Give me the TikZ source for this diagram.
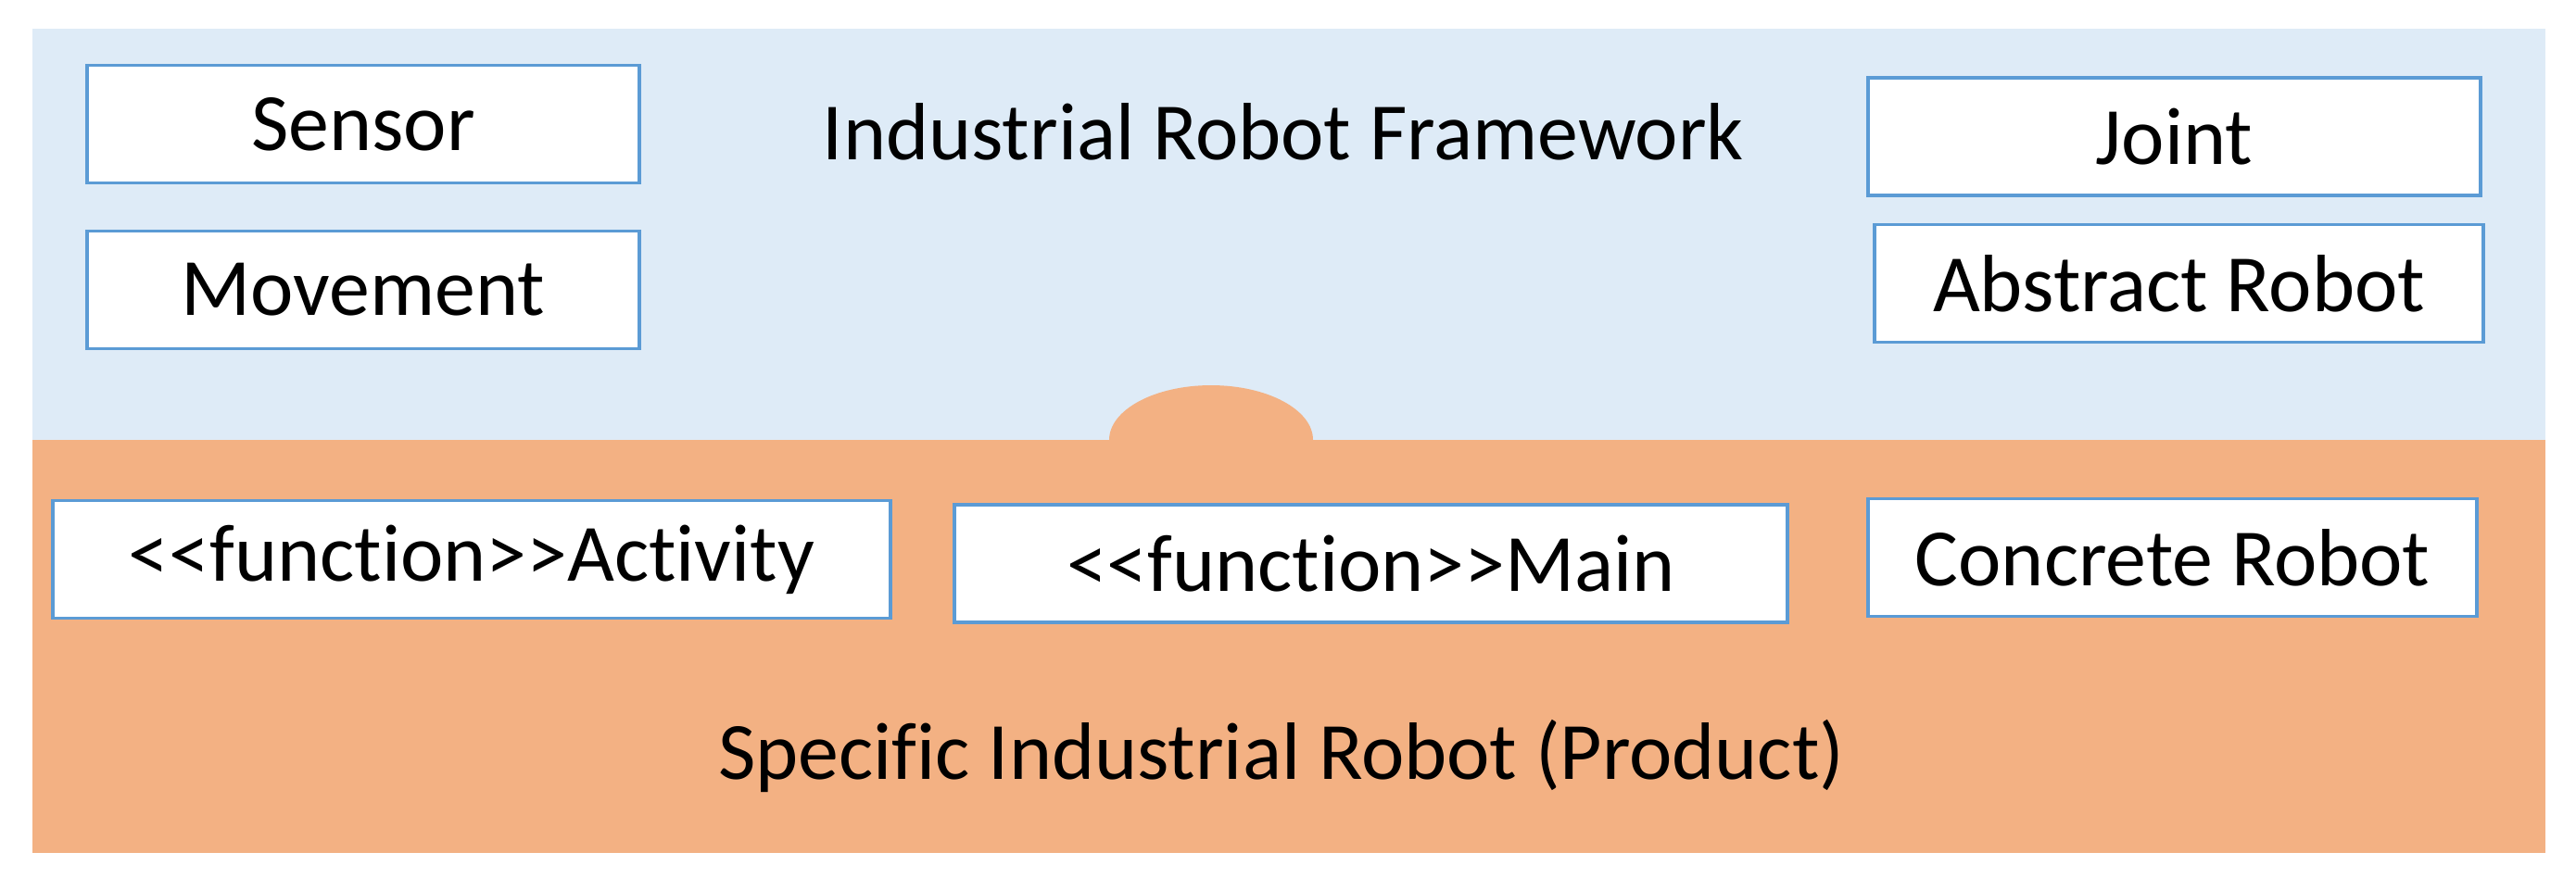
\documentclass[tikz,border=0pt]{standalone}
\usepackage{fontspec}
\setmainfont[Ligatures=NoCommon]{Carlito}
\usepackage{tikz}
\usetikzlibrary{positioning}
\definecolor{frameblue}{RGB}{222,235,247}
\definecolor{productorange}{RGB}{243,177,131}
\definecolor{boxline}{RGB}{91,155,213}
\tikzset{
  part/.style={draw=boxline, line width=0.9pt, fill=white, inner sep=0pt,
               minimum height=1.27cm, font=\fontsize{25}{29}\selectfont},
  label/.style={inner sep=0pt, font=\fontsize{25}{29}\selectfont}
}

\begin{document}
\begin{tikzpicture}
    \useasboundingbox (0,0) rectangle (27.8,-9.6);
    % the two layers
    \fill[frameblue] (0.35,-0.31) rectangle (27.47,-4.75);
    \fill[productorange] (0.35,-4.75) rectangle (27.47,-9.21);
    \fill[productorange] (11.97,-4.75) arc (180:0:1.1 and 0.59);
    % framework
    \node [label] (framework) at (13.85, -1.42) {Industrial Robot Framework};
    \node [part, minimum width=5.96cm] (sensor) at (3.92, -1.34) {Sensor};
    \node [part, minimum width=5.96cm] (movement) at (3.92, -3.13) {Movement};
    \node [part, minimum width=6.61cm] (joint) at (23.465, -1.475) {Joint};
    \node [part, minimum width=6.57cm] (abstract) at (23.515, -3.06) {Abstract Robot};
    % product
    \node [part, minimum width=9.04cm] (activity) at (5.09, -6.04) {<{}<function>{}>Activity};
    \node [part, minimum width=8.99cm] (main) at (14.795, -6.085) {<{}<function>{}>Main};
    \node [part, minimum width=6.57cm] (concrete) at (23.445, -6.02) {Concrete Robot};
    \node [label] (product) at (13.83, -8.16) {Specific Industrial Robot (Product)};
\end{tikzpicture}
\end{document}
